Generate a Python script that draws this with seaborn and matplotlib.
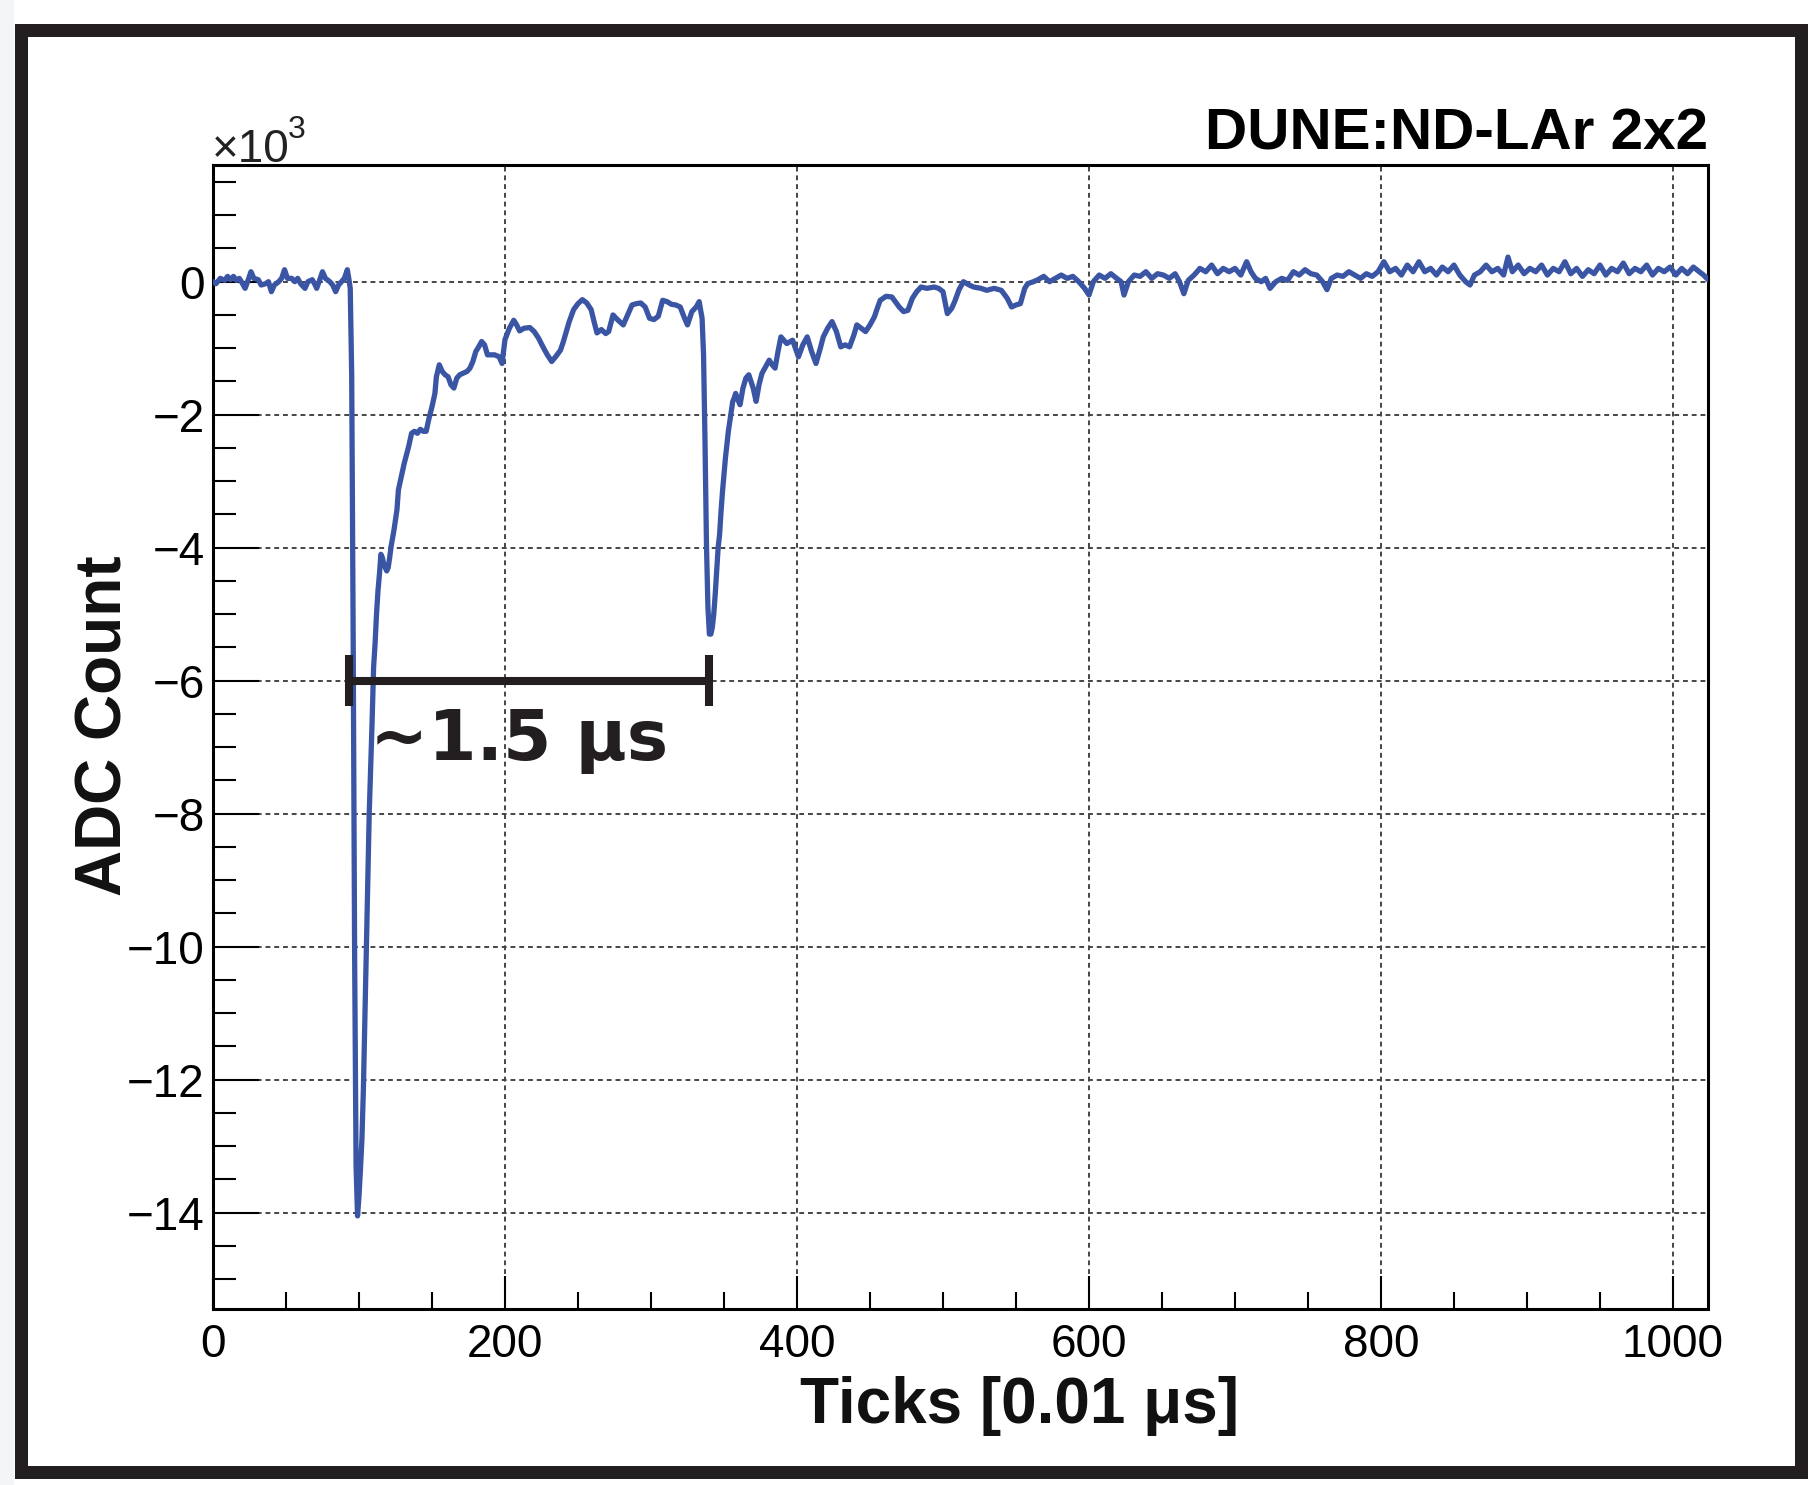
import matplotlib
matplotlib.use("Agg")
import matplotlib.pyplot as plt
import seaborn as sns
import pandas as pd
from matplotlib.patches import Rectangle
from matplotlib.ticker import MultipleLocator

# ---------------- data (ADC in units of 10^3) ----------------
ticks = [0, 2, 5, 8, 10, 12, 14, 16, 18, 20, 22, 24, 26, 28, 31, 33, 36, 38, 40, 42,
         45, 47, 49, 51, 54, 56, 58, 60, 63, 65, 68, 70, 71, 73, 75, 77, 80, 82, 84, 86,
         88, 90, 92, 93, 94, 95, 96, 97, 98, 99, 100, 101, 102, 103, 104, 105, 106, 107, 108, 109,
         110, 111, 112, 113, 114, 115, 116, 117, 118, 119, 120, 121, 122, 124, 126, 127, 129, 131, 134, 136,
         138, 140, 142, 144, 146, 148, 150, 152, 153, 155, 157, 159, 161, 163, 165, 167, 169, 171, 174, 176,
         178, 180, 182, 184, 186, 188, 190, 193, 196, 198, 200, 203, 206, 208, 210, 213, 217, 220, 223, 226,
         229, 232, 235, 238, 240, 242, 244, 247, 250, 253, 256, 259, 261, 263, 266, 269, 271, 274, 277, 281,
         284, 287, 290, 293, 296, 299, 302, 305, 308, 311, 314, 317, 320, 323, 325, 328, 331, 333, 335, 336,
         337, 338, 339, 340, 341, 342, 343, 344, 345, 346, 347, 348, 349, 350, 351, 352, 353, 354, 355, 356,
         357, 358, 359, 361, 363, 365, 367, 370, 372, 374, 376, 378, 381, 383, 385, 387, 389, 393, 397, 401,
         404, 407, 410, 413, 416, 418, 421, 424, 427, 430, 433, 436, 439, 441, 444, 447, 450, 453, 455, 457,
         461, 465, 468, 470, 473, 476, 479, 482, 485, 489, 494, 497, 500, 503, 506, 508, 511, 514, 518, 521,
         526, 530, 535, 540, 544, 547, 550, 553, 556, 558, 562, 565, 569, 573, 577, 581, 585, 589, 593, 597,
         600, 603, 607, 611, 615, 619, 622, 624, 627, 631, 635, 639, 643, 647, 651, 655, 659, 662, 665, 668,
         672, 676, 680, 684, 688, 692, 696, 700, 704, 708, 711, 714, 718, 721, 724, 728, 732, 736, 740, 744,
         748, 752, 756, 760, 763, 766, 770, 774, 778, 782, 786, 790, 794, 798, 802, 806, 810, 814, 818, 822,
         826, 830, 834, 838, 842, 846, 850, 854, 858, 861, 864, 868, 872, 876, 880, 884, 887, 890, 894, 898,
         902, 906, 910, 914, 918, 922, 926, 930, 934, 938, 942, 946, 950, 954, 958, 962, 966, 970, 974, 978,
         982, 986, 990, 994, 998, 1002, 1006, 1010, 1014, 1018, 1021, 1024]
adc_k = [0.0, -0.03, 0.05, 0.02, 0.08, 0.03, 0.08, 0.02, 0.05, -0.02, -0.1, 0.02, 0.15, 0.05, 0.03, -0.05, -0.03, 0.0, -0.15, -0.05,
         0.0, 0.05, 0.18, 0.05, 0.05, 0.0, 0.05, -0.03, -0.1, 0.0, 0.03, -0.05, -0.1, 0.02, 0.15, 0.05, 0.0, -0.05, -0.15, -0.05,
         0.0, 0.05, 0.18, 0.05, -0.1, -1.4, -5.3, -10.1, -13.3, -14.05, -13.75, -13.35, -12.9, -12.15, -11.1, -10.0, -8.95, -8.0, -7.3, -6.6,
         -5.8, -5.45, -5.0, -4.65, -4.4, -4.1, -4.15, -4.25, -4.3, -4.35, -4.3, -4.15, -3.98, -3.73, -3.43, -3.13, -2.93, -2.73, -2.48, -2.28,
         -2.25, -2.28, -2.22, -2.25, -2.25, -2.05, -1.88, -1.68, -1.43, -1.25, -1.35, -1.4, -1.43, -1.55, -1.6, -1.45, -1.4, -1.38, -1.35, -1.3,
         -1.2, -1.05, -0.98, -0.9, -0.95, -1.1, -1.1, -1.1, -1.13, -1.23, -0.87, -0.7, -0.58, -0.65, -0.74, -0.7, -0.69, -0.75, -0.85, -0.98,
         -1.1, -1.2, -1.12, -1.03, -0.9, -0.75, -0.6, -0.42, -0.33, -0.27, -0.32, -0.42, -0.6, -0.77, -0.72, -0.78, -0.75, -0.5, -0.57, -0.65,
         -0.5, -0.35, -0.33, -0.32, -0.38, -0.55, -0.57, -0.52, -0.28, -0.3, -0.34, -0.35, -0.38, -0.55, -0.65, -0.45, -0.38, -0.3, -0.55, -1.1,
         -2.4, -3.95, -4.9, -5.3, -5.3, -5.2, -5.0, -4.7, -4.35, -4.0, -3.8, -3.45, -3.15, -2.9, -2.65, -2.45, -2.25, -2.1, -1.95, -1.8,
         -1.75, -1.68, -1.75, -1.85, -1.6, -1.45, -1.4, -1.6, -1.8, -1.55, -1.38, -1.3, -1.18, -1.25, -1.3, -1.05, -0.83, -0.93, -0.88, -1.13,
         -0.95, -0.83, -1.05, -1.23, -1.0, -0.83, -0.7, -0.6, -0.75, -0.98, -0.95, -0.98, -0.8, -0.65, -0.7, -0.75, -0.65, -0.53, -0.4, -0.28,
         -0.22, -0.23, -0.32, -0.38, -0.45, -0.43, -0.25, -0.15, -0.08, -0.1, -0.08, -0.1, -0.15, -0.48, -0.4, -0.3, -0.12, 0.0, -0.05, -0.08,
         -0.1, -0.13, -0.1, -0.13, -0.25, -0.38, -0.35, -0.33, -0.1, -0.03, 0.0, 0.03, 0.08, 0.0, 0.05, 0.1, 0.05, 0.08, 0.0, -0.1,
         -0.2, 0.0, 0.1, 0.05, 0.12, 0.05, 0.0, -0.2, 0.0, 0.1, 0.08, 0.15, 0.05, 0.12, 0.1, 0.05, 0.12, 0.0, -0.18, 0.02,
         0.1, 0.2, 0.15, 0.25, 0.12, 0.2, 0.15, 0.2, 0.1, 0.3, 0.15, 0.05, 0.0, 0.05, -0.1, 0.0, 0.05, 0.02, 0.15, 0.1,
         0.18, 0.12, 0.1, 0.0, -0.12, 0.05, 0.1, 0.08, 0.15, 0.1, 0.05, 0.12, 0.08, 0.15, 0.3, 0.15, 0.2, 0.1, 0.25, 0.15,
         0.3, 0.15, 0.2, 0.1, 0.22, 0.15, 0.25, 0.1, 0.0, -0.05, 0.1, 0.15, 0.25, 0.15, 0.2, 0.1, 0.37, 0.15, 0.25, 0.12,
         0.2, 0.15, 0.25, 0.1, 0.2, 0.15, 0.3, 0.12, 0.2, 0.08, 0.18, 0.12, 0.25, 0.1, 0.2, 0.15, 0.28, 0.12, 0.2, 0.15,
         0.25, 0.1, 0.2, 0.15, 0.22, 0.1, 0.2, 0.12, 0.22, 0.15, 0.1, 0.03]

x_major = [0, 200, 400, 600, 800, 1000]
x_labels = ["0", "200", "400", "600", "800", "1000"]
y_major = [0, -2, -4, -6, -8, -10, -12, -14]
y_labels = ["0", "\u22122", "\u22124", "\u22126", "\u22128", "\u221210", "\u221212", "\u221214"]

title_text = "DUNE:ND-LAr 2x2"
x_title = "Ticks [0.01 \u03bcs]"
y_title = "ADC Count"
scale_text = "\u00d710"
scale_exp = "3"
annot_text = "~1.5 \u03bcs"
bar_start, bar_end, bar_level = 93.2, 340.0, -6.0

# ---------------- figure ----------------
sns.set_style("white")
plt.rcParams['font.family'] = ['Liberation Sans', 'DejaVu Sans']

W, H = 1815, 1485
fig = plt.figure(figsize=(W / 100, H / 100), dpi=100)
fig.patch.set_facecolor("white")

ax = fig.add_axes([213 / W, 1 - 1309 / H, (1708 - 213) / W, (1309 - 165) / H])

df = pd.DataFrame({"tick": ticks, "adc": adc_k})
sns.lineplot(data=df, x="tick", y="adc", ax=ax, estimator=None, sort=False,
             color="#3b55a5", linewidth=3.8, zorder=3)

ax.set_xlim(0, 1024)
ax.set_ylim(-15.45, 1.755)
ax.set_xlabel("")
ax.set_ylabel("")

ax.set_xticks(x_major)
ax.set_xticklabels(x_labels)
ax.set_yticks(y_major)
ax.set_yticklabels(y_labels)
ax.xaxis.set_minor_locator(MultipleLocator(50))
ax.yaxis.set_minor_locator(MultipleLocator(0.5))

ax.tick_params(axis='x', which='major', direction='in', length=24, width=1.5,
               labelsize=33, pad=10, top=False, bottom=True, colors='black')
ax.tick_params(axis='x', which='minor', direction='in', length=12, width=1.5,
               top=False, bottom=True, colors='black')
ax.tick_params(axis='y', which='major', direction='in', length=33, width=1.5,
               labelsize=33, pad=6, right=False, left=True, colors='black')
ax.tick_params(axis='y', which='minor', direction='in', length=16.5, width=1.5,
               right=False, left=True, colors='black')

ax.grid(True, which='major', color='#454545', linestyle=(0, (2.5, 2)), linewidth=1.4)
ax.set_axisbelow(True)
for s in ax.spines.values():
    s.set_visible(True)
    s.set_linewidth(2.2)
    s.set_color('black')

# annotation bar and text
bar_kw = dict(color='#231f20', lw=5.8, solid_capstyle='butt', zorder=4)
ax.plot([bar_start, bar_end], [bar_level, bar_level], **bar_kw)
ax.plot([bar_start, bar_start], [bar_level - 0.38, bar_level + 0.38], **bar_kw)
ax.plot([bar_end, bar_end], [bar_level - 0.38, bar_level + 0.38], **bar_kw)
ax.text(107.5, -7.19, annot_text, fontsize=50, fontweight='bold', family=['DejaVu Sans'],
        ha='left', va='baseline', color='#231f20', zorder=5)

# texts
fig.text(1708 / W, 1 - 150 / H, title_text, ha='right', va='baseline',
         fontsize=42, fontweight='bold', color='black')
fig.text(212 / W, 1 - 162 / H, scale_text, ha='left', va='baseline', fontsize=33, color='#222222')
fig.text(288 / W, 1 - 138 / H, scale_exp, ha='left', va='baseline', fontsize=23, color='#222222')
fig.text(105 / W, 1 - 726 / H, y_title, rotation=90, ha='center', va='center',
         fontsize=46, fontweight='bold', color='#111111')
fig.text(1020 / W, 1 - 1423 / H, x_title, ha='center', va='baseline',
         fontsize=46, fontweight='bold', color='#111111')

# outer frame
fig.add_artist(Rectangle((0, 0), 14 / W, 1, transform=fig.transFigure,
                         facecolor='#f2f6f9', edgecolor='none'))
fig.add_artist(Rectangle((20.5 / W, 1 - 1471.5 / H), (1801.5 - 20.5) / W, (1471.5 - 29.5) / H,
                         transform=fig.transFigure, fill=False, edgecolor='#231f20',
                         linewidth=13 * 0.72))

fig.savefig("out.png", dpi=100)
